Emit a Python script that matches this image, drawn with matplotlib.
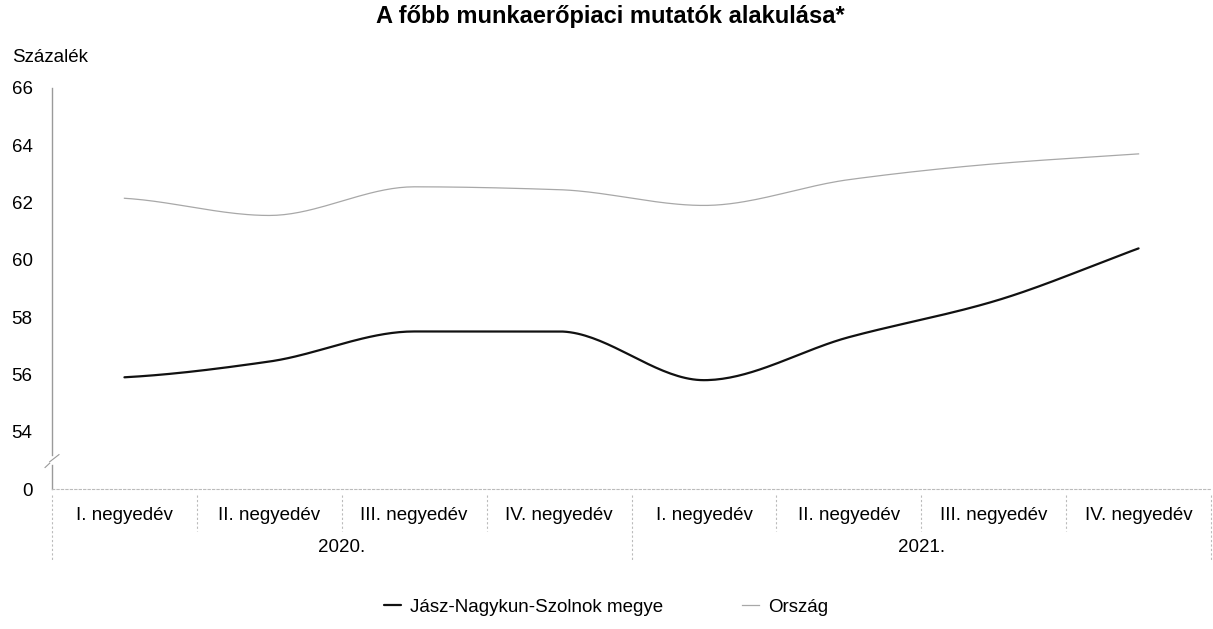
import numpy as np
import matplotlib
matplotlib.use("Agg")
import matplotlib.pyplot as plt
import matplotlib.transforms as mtransforms

plt.rcParams['font.family'] = ['Liberation Sans', 'DejaVu Sans']

# ---- data ----
quarters = ["I. negyedév", "II. negyedév", "III. negyedév", "IV. negyedév",
            "I. negyedév", "II. negyedév", "III. negyedév", "IV. negyedév"]
years = ["2020.", "2021."]
jasz = [55.9, 56.45, 57.5, 57.5, 55.8, 57.3, 58.55, 60.4]
orszag = [62.15, 61.55, 62.55, 62.45, 61.9, 62.8, 63.35, 63.7]
y_ticks = [52, 54, 56, 58, 60, 62, 64, 66]
y_tick_labels = ["0", "54", "56", "58", "60", "62", "64", "66"]
series_names = ["Jász-Nagykun-Szolnok megye", "Ország"]


def smooth(xs, ys, n=40):
    """Monotone cubic Hermite (PCHIP-like) curve through the points."""
    xs = np.asarray(xs, float)
    ys = np.asarray(ys, float)
    h = np.diff(xs)
    d = np.diff(ys) / h
    m = np.zeros_like(ys)
    for k in range(1, len(ys) - 1):
        if d[k - 1] * d[k] <= 0:
            m[k] = 0.0
        else:
            w1 = 2 * h[k] + h[k - 1]
            w2 = h[k] + 2 * h[k - 1]
            m[k] = (w1 + w2) / (w1 / d[k - 1] + w2 / d[k])
    m[0] = d[0] * 0.5
    m[-1] = d[-1] * 1.0
    outx, outy = [], []
    t = np.linspace(0, 1, n)
    for k in range(len(xs) - 1):
        h00 = 2 * t ** 3 - 3 * t ** 2 + 1
        h10 = t ** 3 - 2 * t ** 2 + t
        h01 = -2 * t ** 3 + 3 * t ** 2
        h11 = t ** 3 - t ** 2
        yy = h00 * ys[k] + h10 * h[k] * m[k] + h01 * ys[k + 1] + h11 * h[k] * m[k + 1]
        xx = xs[k] + t * h[k]
        if k > 0:
            xx, yy = xx[1:], yy[1:]
        outx.extend(xx)
        outy.extend(yy)
    return np.array(outx), np.array(outy)


W, H = 1213, 629
fig = plt.figure(figsize=(W / 100, H / 100), dpi=100)
left, right, top, bottom = 52, 1211, 88, 489
ax = fig.add_axes([left / W, 1 - bottom / H, (right - left) / W, (bottom - top) / H])

x = np.arange(len(quarters))
sx, sy = smooth(x, jasz)
ax.plot(sx, sy, color='#111111', lw=1.6, label=series_names[0], solid_capstyle='round')
sx2, sy2 = smooth(x, orszag)
ax.plot(sx2, sy2, color='#a8a8a8', lw=0.9, label=series_names[1])

ax.set_xlim(-0.5, len(quarters) - 0.5)
ax.set_ylim(52, 66)
ax.set_yticks(y_ticks)
ax.set_yticklabels(y_tick_labels, fontsize=13.5)
ax.tick_params(axis='y', length=0, pad=14)
ax.set_xticks([])

for s in ['top', 'right']:
    ax.spines[s].set_visible(False)
ax.spines['left'].set_color('#9a9a9a')
ax.spines['left'].set_linewidth(1.0)
ax.spines['left'].set_bounds(53.2, 66)
ax.spines['bottom'].set_color('#bbbbbb')
ax.spines['bottom'].set_linewidth(0.8)
ax.spines['bottom'].set_linestyle((0, (2, 2)))

# axis break
trans_b = mtransforms.blended_transform_factory(ax.transAxes, ax.transData)
ax.plot([0, 0], [52, 52.85], color='#9a9a9a', lw=1.0, clip_on=False, transform=trans_b)
ax.plot([-0.002, 0.006], [52.95, 53.2], color='#9a9a9a', lw=0.8, clip_on=False, transform=trans_b)
ax.plot([-0.006, -0.002], [52.75, 52.9], color='#9a9a9a', lw=0.8, clip_on=False, transform=trans_b)

# category labels and separators
tr = mtransforms.blended_transform_factory(ax.transData, ax.transAxes)
px2ax = 1.0 / (bottom - top)
for i, q in enumerate(quarters):
    ax.text(i, -27 * px2ax, q, transform=tr, ha='center', va='center', fontsize=13.5)
for i in range(len(quarters) + 1):
    xs = i - 0.5
    if i in (0, 4, 8):
        y0, y1 = -6 * px2ax, -72 * px2ax
    else:
        y0, y1 = -6 * px2ax, -42 * px2ax
    ax.plot([xs, xs], [y0, y1], transform=tr, color='#bbbbbb', lw=0.8,
            ls=(0, (2, 2)), clip_on=False)
for j, yr in enumerate(years):
    ax.text(j * 4 + 1.5, -59 * px2ax, yr, transform=tr, ha='center', va='center', fontsize=13.5)

fig.text(610 / W, 1 - 16 / H, "A főbb munkaerőpiaci mutatók alakulása*", ha='center', va='center',
         fontsize=17, fontweight='bold')
fig.text(12 / W, 1 - 58 / H, "Százalék", ha='left', va='center', fontsize=13.5)

leg = fig.legend(loc='center', bbox_to_anchor=(606 / W, 1 - 607 / H), ncol=2, frameon=False,
                 fontsize=13.5, handlelength=0.9, handletextpad=0.5, columnspacing=4.2)

fig.savefig("out.png", dpi=100)
